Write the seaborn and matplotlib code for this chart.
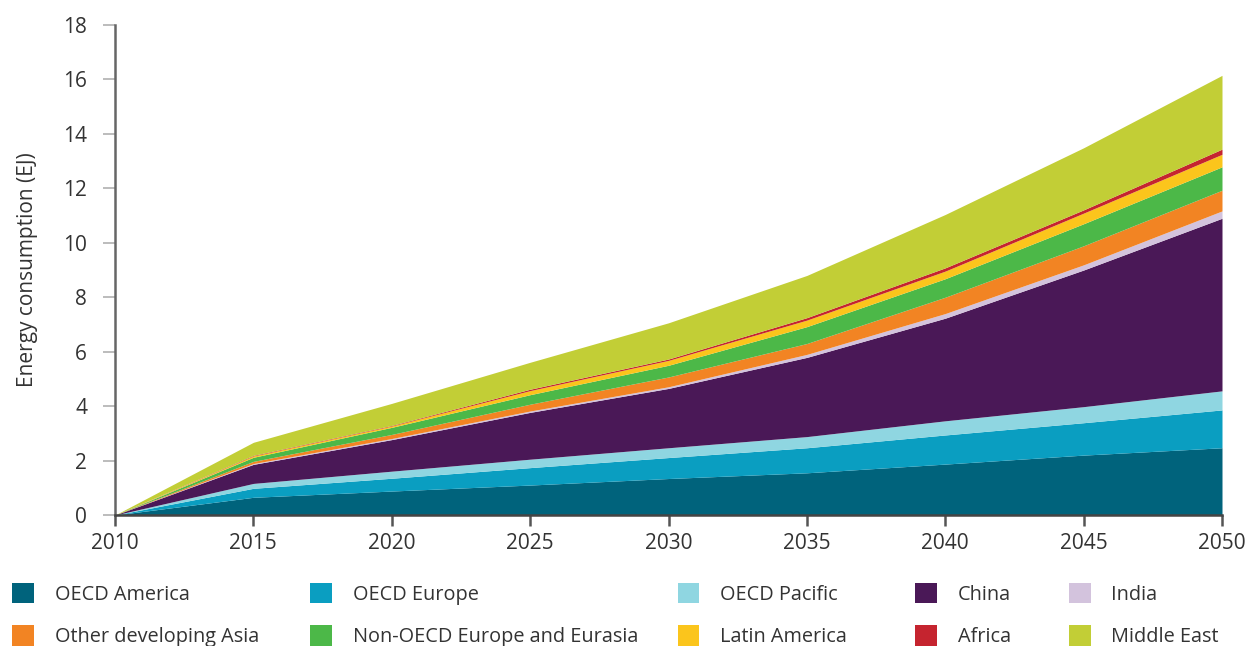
import matplotlib
matplotlib.use('Agg')
import matplotlib.pyplot as plt
import seaborn as sns
import numpy as np
from matplotlib.patches import Patch

# data (EJ, stacked)
years = [2010, 2015, 2020, 2025, 2030, 2035, 2040, 2045, 2050]
oecd_america = [0, 0.65, 0.88, 1.10, 1.34, 1.55, 1.87, 2.20, 2.47]
oecd_europe = [0, 0.33, 0.47, 0.64, 0.77, 0.92, 1.07, 1.19, 1.39]
oecd_pacific = [0, 0.18, 0.26, 0.31, 0.36, 0.41, 0.52, 0.59, 0.70]
china = [0, 0.70, 1.16, 1.72, 2.18, 2.91, 3.77, 5.02, 6.34]
india = [0, 0.03, 0.04, 0.05, 0.06, 0.11, 0.17, 0.19, 0.27]
other_asia = [0, 0.08, 0.15, 0.25, 0.36, 0.40, 0.60, 0.70, 0.76]
non_oecd_eurasia = [0, 0.15, 0.26, 0.35, 0.43, 0.62, 0.68, 0.81, 0.86]
latin_america = [0, 0.05, 0.05, 0.15, 0.18, 0.24, 0.28, 0.39, 0.46]
africa = [0, 0.02, 0.02, 0.05, 0.05, 0.09, 0.12, 0.12, 0.19]
middle_east = [0, 0.48, 0.81, 0.99, 1.33, 1.55, 1.96, 2.28, 2.71]

labels = ['OECD America', 'OECD Europe', 'OECD Pacific', 'China', 'India',
          'Other developing Asia', 'Non-OECD Europe and Eurasia', 'Latin America',
          'Africa', 'Middle East']
colors = ['#00637c', '#0a9ec1', '#8fd6e1', '#4a1857', '#d3c3dd',
          '#f28423', '#4cb848', '#fbc51c', '#c5242f', '#c2ce36']
series = [oecd_america, oecd_europe, oecd_pacific, china, india,
          other_asia, non_oecd_eurasia, latin_america, africa, middle_east]

sns.set_theme(style='ticks')
plt.rcParams['font.family'] = ['Open Sans', 'DejaVu Sans']
text_col = '#333333'

fig = plt.figure(figsize=(12.5, 6.46), dpi=100)
ax = fig.add_axes([0.092, 0.2028, 0.8856, 0.7585])

ax.stackplot(years, *series, colors=colors, labels=labels, linewidth=0)

ax.set_xlim(2010, 2050)
ax.set_ylim(0, 18)
ax.set_xticks(range(2010, 2051, 5))
ax.set_yticks(range(0, 19, 2))
ax.set_ylabel('Energy consumption (EJ)', fontsize=15, color=text_col, labelpad=18)

sns.despine(ax=ax)
ax.spines['left'].set_color('#666666')
ax.spines['left'].set_linewidth(1.8)
ax.spines['bottom'].set_color('#444444')
ax.spines['bottom'].set_linewidth(1.8)
ax.tick_params(axis='y', colors='#b0b0b0', length=9, width=1.2, pad=11,
               labelsize=15, labelcolor=text_col)
ax.tick_params(axis='x', colors='#555555', length=8, width=1.8, pad=5,
               labelsize=15, labelcolor=text_col)

# legend: five uneven columns, two rows
col_x = [0.0096, 0.248, 0.542, 0.732, 0.855]
for i, x in enumerate(col_x):
    idx = [i, i + 5]
    handles = [Patch(facecolor=colors[j], edgecolor='none', label=labels[j]) for j in idx]
    leg = fig.legend(handles=handles, loc='upper left', bbox_to_anchor=(x, 0.098),
                     frameon=False, fontsize=14.3, handlelength=1.1, handleheight=1.2,
                     handletextpad=1.05, labelspacing=1.05, borderpad=0, borderaxespad=0)
    for t in leg.get_texts():
        t.set_color(text_col)

fig.savefig('out.png', dpi=100)
